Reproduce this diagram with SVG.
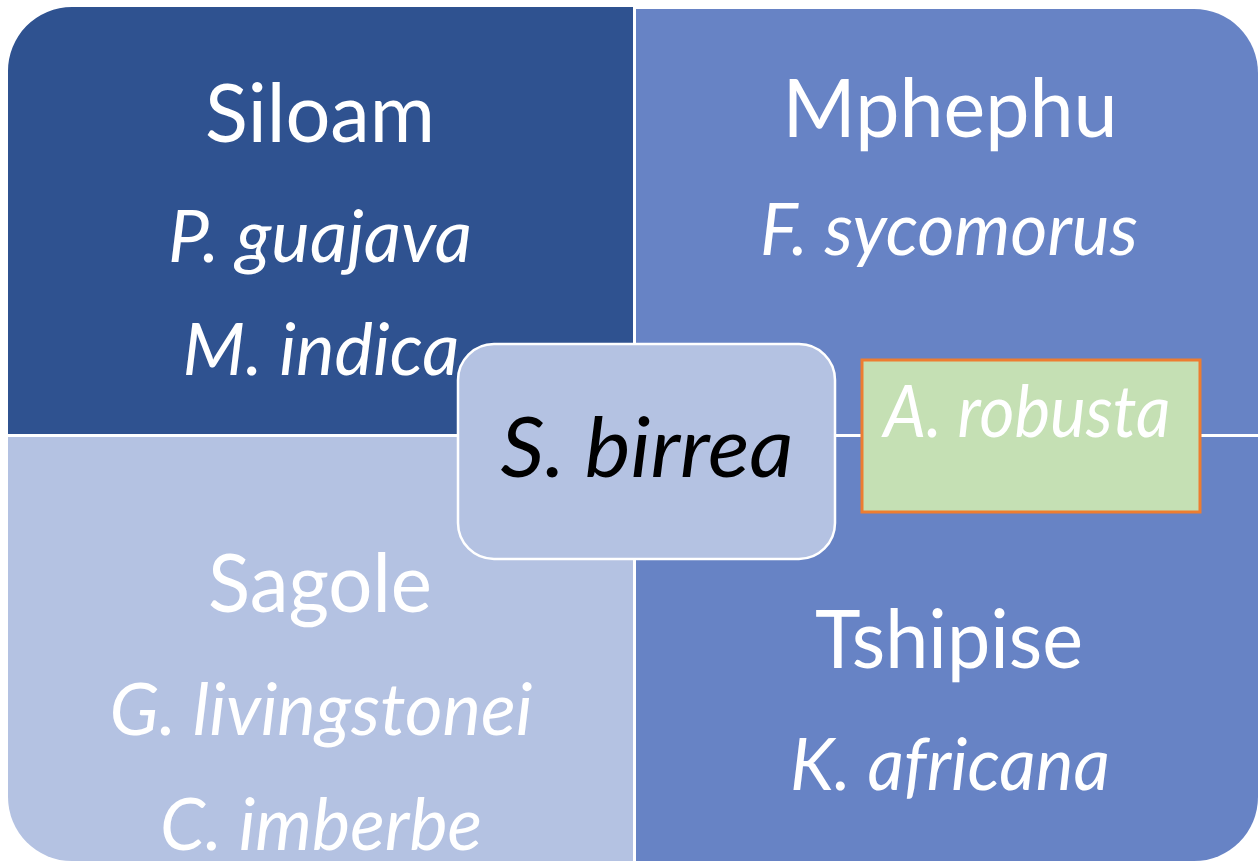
<svg xmlns="http://www.w3.org/2000/svg" width="1258" height="861" viewBox="0 0 1258 861">
<style>
text{font-family:"Lato","Open Sans","Liberation Sans",sans-serif;fill:#fff;text-anchor:middle}
.t{font-size:82px}
.i{font-size:71px;font-style:italic}
.c{font-size:84px;font-style:italic;fill:#000}
</style>
<rect width="1258" height="861" fill="#fff"/>
<g id="siloam">
<path d="M8 72 A64 64 0 0 1 72 7 L633 7 L633 434 L8 434 Z" fill="#2F5290"/>
<text class="t" x="320" y="142" textLength="230" lengthAdjust="spacingAndGlyphs">Siloam</text>
<text class="i" x="320" y="262" textLength="304" lengthAdjust="spacingAndGlyphs">P. guajava</text>
<text class="i" x="321" y="375" textLength="277" lengthAdjust="spacingAndGlyphs">M. indica</text>
</g>
<g id="mphephu">
<path d="M636 9 L1194 9 A64 64 0 0 1 1258 73 L1258 434 L636 434 Z" fill="#6783C5"/>
<text class="t" x="950" y="137" textLength="335" lengthAdjust="spacingAndGlyphs">Mphephu</text>
<text class="i" x="949" y="255" textLength="378" lengthAdjust="spacingAndGlyphs">F. sycomorus</text>
</g>
<g id="sagole">
<path d="M8 437 L633 437 L633 861 L72 861 A64 64 0 0 1 8 797 Z" fill="#B4C2E2"/>
<text class="t" x="320" y="612" textLength="224" lengthAdjust="spacingAndGlyphs">Sagole</text>
<text class="i" x="321" y="735" textLength="423" lengthAdjust="spacingAndGlyphs">G. livingstonei</text>
<text class="i" x="321" y="850" textLength="322" lengthAdjust="spacingAndGlyphs">C. imberbe</text>
</g>
<g id="tshipise">
<path d="M636 437 L1258 437 L1258 797 A64 64 0 0 1 1194 861 L636 861 Z" fill="#6783C5"/>
<text class="t" x="949" y="668" textLength="268" lengthAdjust="spacingAndGlyphs">Tshipise</text>
<text class="i" x="950" y="790" textLength="320" lengthAdjust="spacingAndGlyphs">K. africana</text>
</g>
<g id="arobusta">
<rect x="862" y="360" width="338" height="152" fill="#C5E0B4" stroke="#ED7D31" stroke-width="3"/>
<text class="i" x="1027" y="437" textLength="287" lengthAdjust="spacingAndGlyphs">A. robusta</text>
</g>
<g id="sbirrea">
<rect x="458" y="344" width="377" height="215" rx="36" fill="#B4C2E2" stroke="#fff" stroke-width="2.5"/>
<text class="c" x="647" y="477" textLength="293" lengthAdjust="spacingAndGlyphs">S. birrea</text>
</g>
<g id="connectors"></g>
</svg>
